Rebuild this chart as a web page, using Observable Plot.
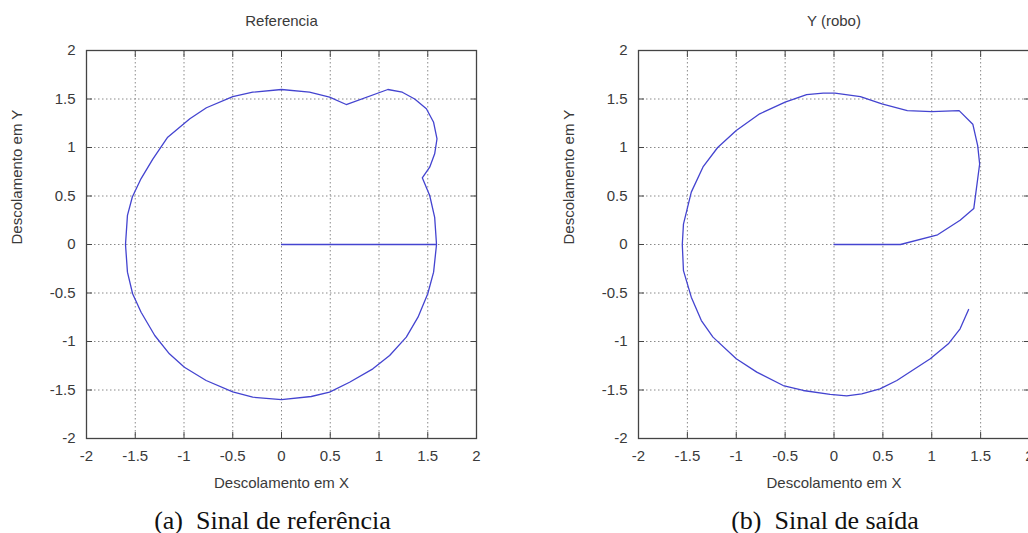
<!DOCTYPE html>
<html>
<head>
<meta charset="utf-8">
<script src="https://cdn.jsdelivr.net/npm/d3@7"></script>
<script src="https://cdn.jsdelivr.net/npm/@observablehq/plot@0.6"></script>
<style>
  html, body { margin: 0; padding: 0; width: 1028px; height: 533px; overflow: hidden; background: #fff; }
  .panel { position: absolute; top: 0; }
  .panel svg { max-width: none !important; }
</style>
</head>
<body>
<div id="panelA" class="panel" style="left:0px;width:520px"></div>
<div id="panelB" class="panel" style="left:520px;width:560px"></div>
<script>
// ---- data ----
const ticks = [-2, -1.5, -1, -0.5, 0, 0.5, 1, 1.5, 2];
const gridTicks = [-1.5, -1, -0.5, 0, 0.5, 1, 1.5];

const titles = ["Referencia", "Y (robo)"];
const xLabel = "Descolamento em X";
const yLabel = "Descolamento em Y";
const captions = ["(a)\u2002Sinal de referência", "(b)\u2002Sinal de saída"];

// Reference trajectory (panel a)
const refX = [0, 1.59, 1.571, 1.52, 1.444, 1.52, 1.571, 1.595, 1.56, 1.486, 1.366, 1.239, 1.091, 0.664, 0.493, 0.287,
  0, -0.295, -0.5, -0.77, -0.94, -1.167, -1.32, -1.44, -1.53, -1.58, -1.6, -1.58, -1.527, -1.44, -1.30, -1.15,
  -0.996, -0.773, -0.5, -0.295, 0, 0.305, 0.493, 0.698, 0.937, 1.109, 1.28, 1.40, 1.50, 1.56, 1.59];
const refY = [0, 0, 0.28, 0.505, 0.687, 0.797, 0.935, 1.09, 1.26, 1.399, 1.50, 1.57, 1.598, 1.443, 1.519, 1.57,
  1.598, 1.57, 1.525, 1.41, 1.296, 1.106, 0.88, 0.68, 0.49, 0.3, 0, -0.285, -0.508, -0.698, -0.938, -1.127,
  -1.265, -1.402, -1.52, -1.574, -1.6, -1.567, -1.522, -1.42, -1.282, -1.144, -0.955, -0.749, -0.508, -0.285, 0];

// Robot output trajectory (panel b)
const outX = [0, 0.68, 1.06, 1.29, 1.43, 1.49, 1.47, 1.42, 1.28, 1.0, 0.75, 0.49, 0.27, 0.01, -0.11, -0.28, -0.5,
  -0.76, -1.0, -1.19, -1.34, -1.46, -1.54, -1.552, -1.54, -1.46, -1.357, -1.238, -1.0, -0.79, -0.52, -0.315,
  -0.04, 0.13, 0.284, 0.47, 0.643, 0.985, 1.17, 1.29, 1.377];
const outY = [0, 0, 0.1, 0.25, 0.37, 0.83, 1.02, 1.24, 1.38, 1.37, 1.38, 1.45, 1.525, 1.56, 1.56, 1.546, 1.467,
  1.347, 1.175, 1.0, 0.8, 0.54, 0.21, 0, -0.27, -0.543, -0.784, -0.955, -1.178, -1.316, -1.454, -1.505,
  -1.546, -1.56, -1.54, -1.488, -1.402, -1.178, -1.024, -0.869, -0.67];

// ---- drawing ----
const fmt = d => String(d);
const axisColor = "#3a3a3a";
const lineColor = "#4444d0";

function panel({xs, ys, title, caption, width, marginLeft, marginRight}) {
  return Plot.plot({
    width, height: 533,
    marginLeft, marginRight, marginTop: 50, marginBottom: 95,
    x: {domain: [-2, 2]},
    y: {domain: [-2, 2]},
    style: {fontFamily: "'Liberation Sans', Arial, sans-serif", fontSize: "15px", color: axisColor,
      background: "white", overflow: "visible", maxWidth: "none"},
    marks: [
      Plot.gridX(gridTicks, {stroke: "#8a8a8a", strokeOpacity: 1, strokeDasharray: "1.5,2.5"}),
      Plot.gridY(gridTicks, {stroke: "#8a8a8a", strokeOpacity: 1, strokeDasharray: "1.5,2.5"}),
      // inward ticks on all sides
      Plot.axisX(ticks, {anchor: "bottom", tickSize: -6, tickFormat: () => "", label: null, stroke: "#444"}),
      Plot.axisX(ticks, {anchor: "top", tickSize: -6, tickFormat: () => "", label: null, stroke: "#444"}),
      Plot.axisY(ticks, {anchor: "left", tickSize: -6, tickFormat: () => "", label: null, stroke: "#444"}),
      Plot.axisY(ticks, {anchor: "right", tickSize: -6, tickFormat: () => "", label: null, stroke: "#444"}),
      // tick labels
      Plot.axisX(ticks, {anchor: "bottom", tickSize: 0, tickPadding: 12, tickFormat: fmt, label: null}),
      Plot.axisY(ticks, {anchor: "left", tickSize: 0, tickPadding: 11, tickFormat: fmt, label: null}),
      Plot.frame({stroke: "#444", strokeWidth: 1.3}),
      Plot.line({length: xs.length}, {x: xs, y: ys, stroke: lineColor, strokeWidth: 1.3}),
      // titles and labels
      Plot.text([title], {text: d => d, frameAnchor: "top", lineAnchor: "middle", dy: -29, fontSize: 15}),
      Plot.text([xLabel], {text: d => d, frameAnchor: "bottom", lineAnchor: "middle", dy: 45, fontSize: 15}),
      Plot.text([yLabel], {text: d => d, frameAnchor: "left", lineAnchor: "middle", rotate: -90, dx: -69, fontSize: 15}),
      Plot.text([caption], {text: d => d, frameAnchor: "bottom", lineAnchor: "middle", dy: 82, dx: -9, fontSize: 26,
        fontFamily: "'Liberation Serif', 'Times New Roman', serif", fill: "#111"})
    ]
  });
}

document.getElementById("panelA").append(panel({
  xs: refX, ys: refY, title: titles[0], caption: captions[0],
  width: 520, marginLeft: 86, marginRight: 44
}));
document.getElementById("panelB").append(panel({
  xs: outX, ys: outY, title: titles[1], caption: captions[1],
  width: 560, marginLeft: 118, marginRight: 51
}));
</script>
</body>
</html>
